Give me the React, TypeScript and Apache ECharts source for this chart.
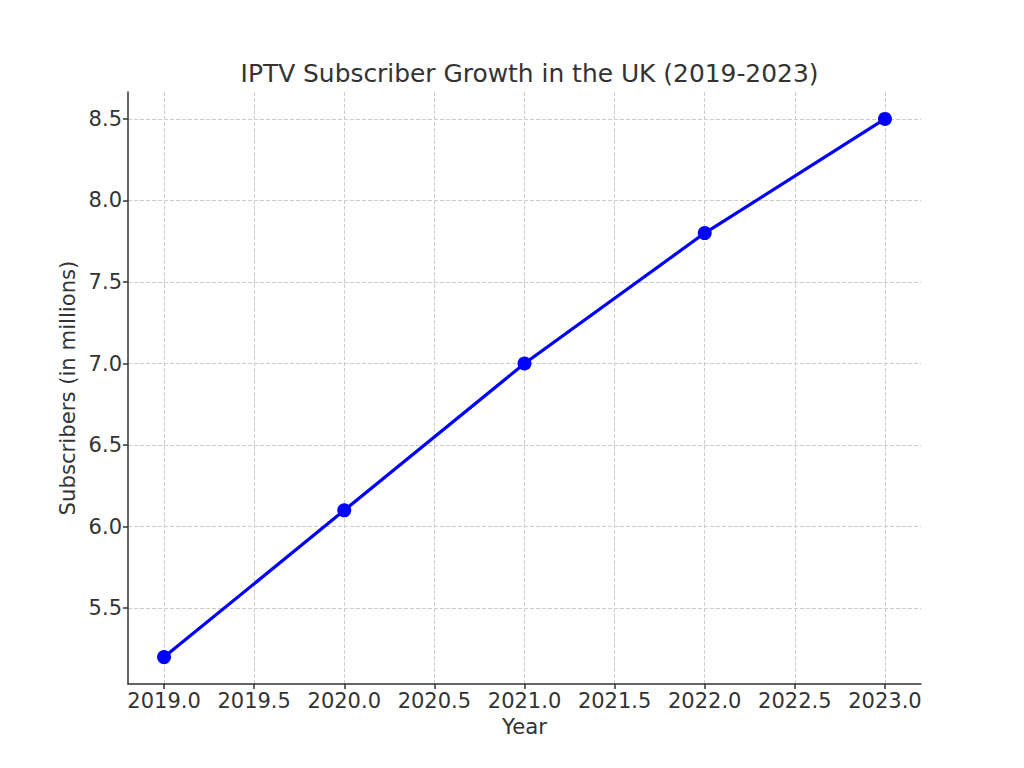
import React, { useEffect, useRef } from "react";
import * as echarts from "echarts";

const years = [2019, 2020, 2021, 2022, 2023];
const subscribers = [5.2, 6.1, 7.0, 7.8, 8.5];
const xTicks = [2019.0, 2019.5, 2020.0, 2020.5, 2021.0, 2021.5, 2022.0, 2022.5, 2023.0];
const yTicks = [5.5, 6.0, 6.5, 7.0, 7.5, 8.0, 8.5];

const FONT = "DejaVu Sans";
const TXT = "#333333";

export default function App() {
  const ref = useRef<HTMLDivElement>(null);
  useEffect(() => {
    if (!ref.current) return;
    const chart = echarts.init(ref.current, null, { renderer: "svg" });
    const gridStyle = { color: "#cccccc", width: 1, type: [4, 2] as any };
    chart.setOption({
      animation: false,
      backgroundColor: "#ffffff",
      textStyle: { fontFamily: FONT },
      title: {
        text: "IPTV Subscriber Growth in the UK (2019-2023)",
        left: 524.5,
        top: 56,
        textAlign: "center",
        textStyle: { fontFamily: FONT, fontSize: 24.9, fontWeight: "normal", color: TXT },
      },
      grid: { left: 128, right: 103, top: 92, bottom: 84, containLabel: false },
      xAxis: {
        type: "value",
        min: 2018.8,
        max: 2023.2,
        name: "Year",
        nameLocation: "middle",
        nameGap: 32,
        nameTextStyle: { fontFamily: FONT, fontSize: 21.2, color: TXT },
        axisLine: { show: true, onZero: false, lineStyle: { color: TXT, width: 1.5 } },
        axisTick: { show: true, inside: false, length: 5, customValues: xTicks, lineStyle: { color: TXT, width: 1.5 } },
        axisLabel: {
          customValues: xTicks,
          formatter: (v: number) => v.toFixed(1),
          fontFamily: FONT,
          fontSize: 21,
          color: TXT,
          margin: 6,
        },
        splitLine: { show: true, lineStyle: gridStyle },
      },
      yAxis: {
        type: "value",
        min: 5.035,
        max: 8.665,
        name: "Subscribers (in millions)",
        nameLocation: "middle",
        nameGap: 50,
        nameTextStyle: { fontFamily: FONT, fontSize: 21.2, color: TXT },
        axisLine: { show: true, onZero: false, lineStyle: { color: TXT, width: 1.5 } },
        axisTick: { show: true, inside: false, length: 5, customValues: yTicks, lineStyle: { color: TXT, width: 1.5 } },
        axisLabel: {
          customValues: yTicks,
          formatter: (v: number) => v.toFixed(1),
          fontFamily: FONT,
          fontSize: 21,
          color: TXT,
          margin: 6,
        },
        splitLine: { show: true, lineStyle: gridStyle },
      },
      series: [
        {
          type: "line",
          data: years.map((y, i) => [y, subscribers[i]]),
          symbol: "circle",
          symbolSize: 14,
          lineStyle: { color: "#0000ff", width: 3.2 },
          itemStyle: { color: "#0000ff" },
          z: 5,
        },
      ],
    });
    return () => chart.dispose();
  }, []);
  return (
    <div
      ref={ref}
      style={{ position: "fixed", left: 0, top: 0, width: 1024, height: 768, background: "#fff" }}
    />
  );
}
